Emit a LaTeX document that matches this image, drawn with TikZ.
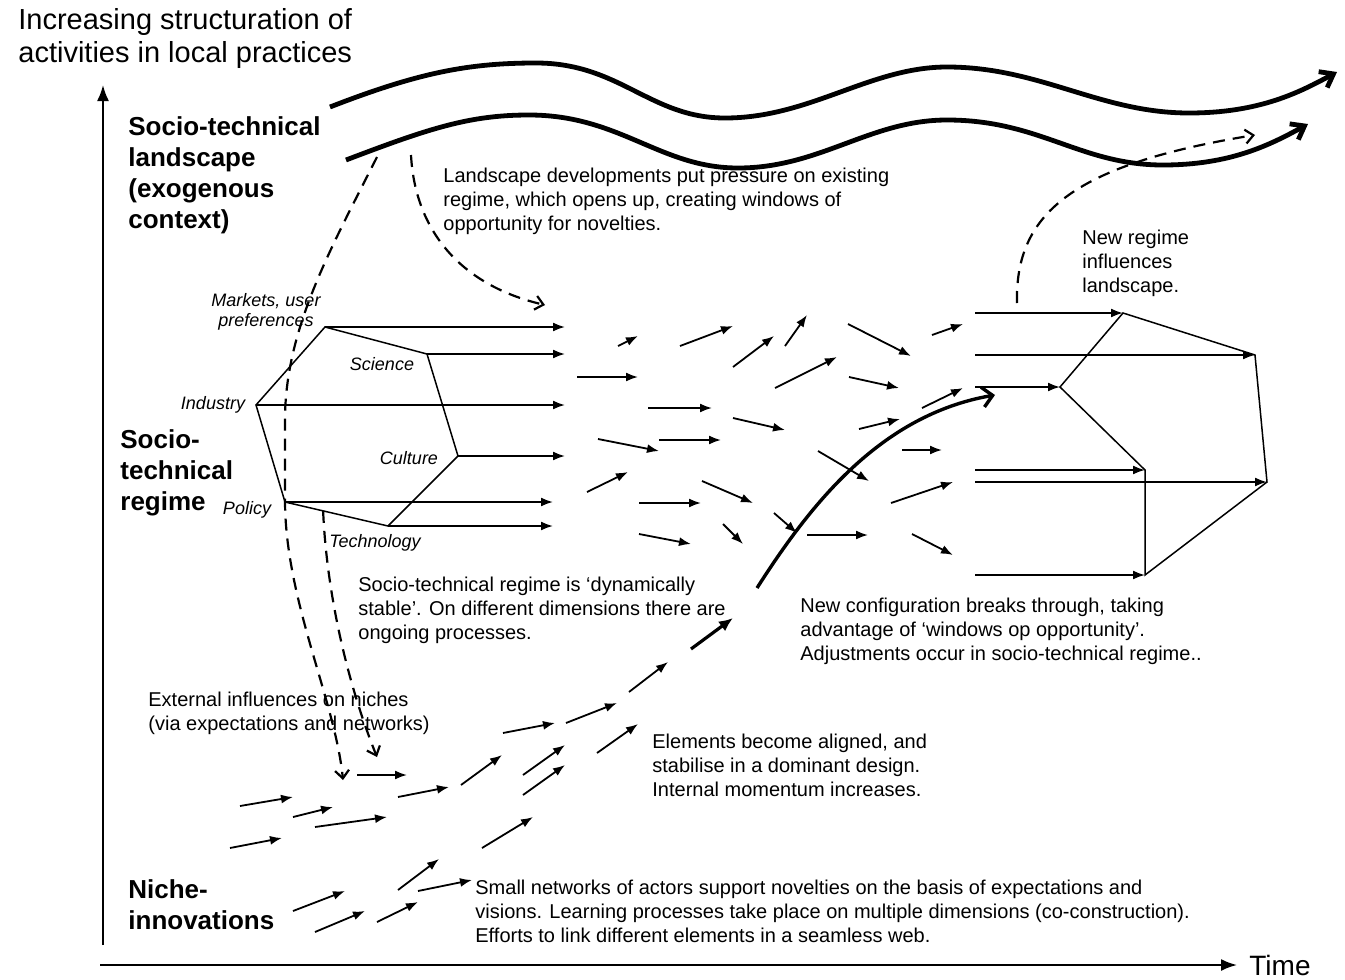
\documentclass[tikz,border=0pt]{standalone}
\usepackage{fontspec}
\setmainfont{Liberation Sans}
\usetikzlibrary{arrows.meta,calc}

\begin{document}
\begin{tikzpicture}[x=0.5pt, y=-0.5pt,
            every node/.style = {inner sep=0pt, align=left},
            level/.style = {font=\fontsize{13}{15.5}\selectfont\bfseries, anchor=north west},
            note/.style = {font=\fontsize{10}{12}\selectfont, anchor=north west},
            dim/.style = {font=\fontsize{9}{10}\selectfont\itshape, align=center},
            flow/.style = {line width=0.9pt, -{Latex[length=6pt,width=4.5pt]}},
            rim/.style = {line width=0.75pt},
            wave/.style = {line width=2.4pt, -{Straight Barb[length=6pt,width=9pt]}},
            infl/.style = {line width=1.1pt, dash pattern=on 6pt off 4pt,
                           -{Straight Barb[length=4pt,width=7pt]}},
            axis/.style = {line width=1pt, -{Latex[length=8pt,width=6pt]}}]
\useasboundingbox (0,0) rectangle (1345,980);

% axes
\coordinate (yFoot) at (103,945);
\coordinate (yHead) at (103,85);
\coordinate (xFoot) at (100,965);
\node[font=\fontsize{14}{16}\selectfont, anchor=west] (time) at (1249,965) {Time};
\node[anchor=north west, font=\fontsize{14.5}{16.5}\selectfont] (structuration) at (18,8)
    {Increasing structuration of\\activities in local practices};
\draw[axis] (yFoot) -- (yHead);
\draw[axis, shorten >=6pt] (xFoot) -- (time.west);

% levels
\node[level] (landscape) at (128,116) {Socio-technical\\landscape\\(exogenous\\context)};
\node[level] (regime) at (120,429) {Socio-\\technical\\regime};
\node[level] (niche) at (128,879) {Niche-\\innovations};

% landscape
\draw[wave] (330,107) .. controls (420,72) and (470,63) .. (536,63)
    .. controls (620,63) and (650,118) .. (725,118)
    .. controls (810,118) and (870,67) .. (947,67)
    .. controls (1040,67) and (1100,113) .. (1189,113)
    .. controls (1260,113) and (1300,92) .. (1337,72);
\draw[wave] (346,160) .. controls (430,128) and (470,115) .. (529,115)
    .. controls (620,115) and (660,168) .. (738,168)
    .. controls (820,168) and (870,120) .. (947,120)
    .. controls (1040,120) and (1080,165) .. (1163,165)
    .. controls (1230,165) and (1270,145) .. (1308,124);

% old regime
\coordinate (mkt) at (325,327);
\coordinate (sci) at (427,354);
\coordinate (cul) at (458,456);
\coordinate (tec) at (388,526);
\coordinate (pol) at (285,502);
\coordinate (ind) at (256,405);
\draw[rim] (mkt) -- (sci) -- (cul) -- (tec) -- (pol) -- (ind) -- cycle;
\node[dim] (lMarkets) at (266,312) {Markets, user\\preferences};
\node[dim] (lScience) at (382,364) {Science};
\node[dim] (lIndustry) at (213,405) {Industry};
\node[dim] (lCulture) at (409,458) {Culture};
\node[dim] (lPolicy) at (247,510) {Policy};
\node[dim] (lTech) at (375,543) {Technology};
\coordinate (rEnd) at (565,0);
\coordinate (rEndLow) at (553,0);
\foreach \v in {mkt,sci,ind,cul}
    \draw[flow] (\v) -- (\v -| rEnd);
\foreach \v in {pol,tec}
    \draw[flow] (\v) -- (\v -| rEndLow);

% new regime
\coordinate (nA) at (1123,313);
\coordinate (nB) at (1255,355);
\coordinate (nC) at (1267,482);
\coordinate (nD) at (1145,575);
\coordinate (nE) at (1145,470);
\coordinate (nF) at (1060,387);
\draw[rim] (nA) -- (nB) -- (nC) -- (nD) -- (nE) -- (nF) -- cycle;
\coordinate (nStart) at (975,0);
\foreach \v in {nA,nB,nC,nD,nE,nF}
    \draw[flow] (\v -| nStart) -- (\v);

% dynamics in the regime
\foreach \xa/\ya/\xb/\yb in {618/346/638/336, 680/346/733/326, 577/377/638/377,
        733/367/774/336, 785/346/807/315, 848/324/911/356, 932/335/963/324,
        775/388/837/357, 849/377/899/388, 648/408/712/408, 733/418/785/430,
        922/408/963/388, 859/429/900/419, 598/439/659/451, 659/440/721/440,
        902/450/942/450, 587/492/628/472, 702/481/753/503, 818/451/869/481,
        891/503/953/482, 639/503/701/503, 774/513/797/533, 639/534/691/544,
        723/524/743/544, 807/535/868/535, 912/534/953/555}
    \draw[flow] (\xa,\ya) -- (\xb,\yb);

% niches
\foreach \xa/\ya/\xb/\yb in {240/806/293/797, 293/817/333/807, 315/827/387/817,
        230/848/282/838, 357/775/407/775, 398/797/449/787, 461/785/502/755,
        503/733/555/723, 566/723/617/703, 523/775/565/745, 523/795/565/765,
        597/753/638/724, 482/848/533/817, 398/890/439/859, 418/891/472/880,
        293/911/345/891, 315/932/365/911, 377/922/418/902, 629/692/668/662}
    \draw[flow] (\xa,\ya) -- (\xb,\yb);
\draw[line width=1.6pt, -{Latex[length=7pt,width=6pt]}] (691,649) -- (733,618);

% breakthrough
\coordinate (breakFoot) at (757,588);
\coordinate (breakHead) at (995,395);
\draw[line width=1.7pt, -{Straight Barb[length=5pt,width=10pt]}]
    (breakFoot) .. controls (810,505) and (880,415) .. (breakHead);

% influences
\coordinate (lsLeft) at (377,157);
\coordinate (lsMid) at (411,155);
\coordinate (gap) at (545,305);
\coordinate (nicheIn) at (343,780);
\coordinate (nicheIn2) at (377,757);
\coordinate (polTec) at ($(pol)!0.37!(tec)$);
\coordinate (nrFoot) at (1017,303);
\coordinate (nrHead) at (1255,135);
\draw[infl] (lsLeft) .. controls (330,250) and (285,330) .. (285,420) -- (285,500)
    .. controls (285,600) and (335,700) .. (nicheIn);
\draw[infl] (polTec) .. controls (327,600) and (350,690) .. (nicheIn2);
\draw[infl] (lsMid) .. controls (415,230) and (460,285) .. (gap);
\draw[infl] (nrFoot) .. controls (1015,215) and (1070,165) .. (nrHead);

% notes
\node[note] (pressure) at (443,168) {Landscape developments put pressure on existing\\regime, which opens up, creating windows of\\opportunity for novelties.};
\node[note] (feedback) at (1082,230) {New regime\\influences\\landscape.};
\node[note] (stable) at (358,577) {Socio-technical regime is `dynamically\\stable'. On different dimensions there are\\ongoing processes.};
\node[note] (breaks) at (800,598) {New configuration breaks through, taking\\advantage of `windows op opportunity'.\\Adjustments occur in socio-technical regime..};
\node[note] (external) at (148,692) {External influences on niches\\(via expectations and networks)};
\node[note] (aligned) at (652,734) {Elements become aligned, and\\stabilise in a dominant design.\\Internal momentum increases.};
\node[note] (small) at (475,880) {Small networks of actors support novelties on the basis of expectations and\\visions. Learning processes take place on multiple dimensions (co-construction).\\Efforts to link different elements in a seamless web.};
\end{tikzpicture}
\end{document}
